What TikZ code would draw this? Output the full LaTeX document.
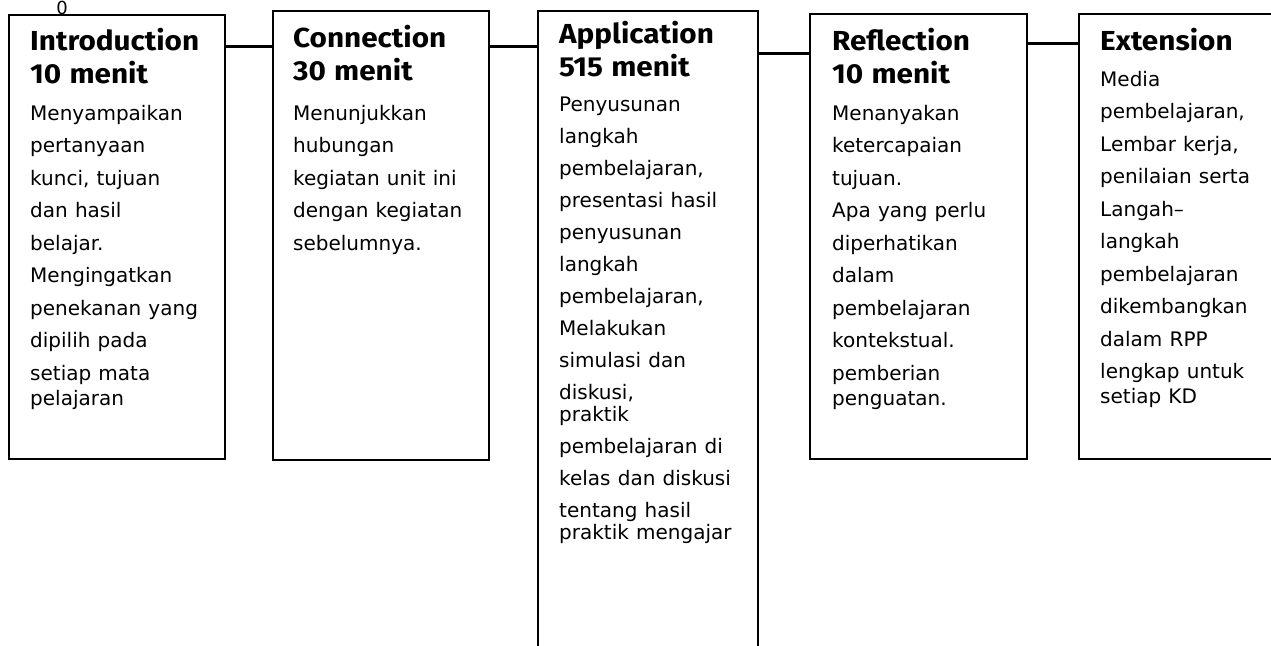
\documentclass[tikz,border=0pt]{standalone}
\usepackage{fontspec}
\setmainfont{DejaVu Sans}
\newfontfamily\headfam{Fira Sans}[FakeStretch=1.08]
\usepackage{tikz}
\newcommand{\stagehead}[1]{{\headfam\bfseries\fontsize{27.5}{33}\selectfont\spaceskip=0.3em #1\par}}
\newcommand{\stagebody}[1]{{\fontsize{20}{25}\selectfont\spaceskip=0.36em #1\par}}

\begin{document}
\begin{tikzpicture}[x=1pt,y=-1pt,
  stagebox/.style={draw,line width=2pt,anchor=north west,inner sep=0pt,outer sep=0pt},
  stagetext/.style={anchor=base west,inner sep=0pt,text width=200pt,align=left},
  link/.style={line width=3pt}]
\useasboundingbox (0,0) rectangle (1271,645);
\clip (0,0) rectangle (1271,645);

\node[stagebox,minimum width=216pt,minimum height=444pt] (intro) at (9,15) {};
\node[stagebox,minimum width=216pt,minimum height=449pt] (conn) at (273,10.5) {};
\node[stagebox,minimum width=220pt,minimum height=700pt] (app) at (538,11) {};
\node[stagebox,minimum width=217pt,minimum height=445pt] (refl) at (810,14) {};
\node[stagebox,minimum width=250pt,minimum height=445pt] (ext) at (1079,14) {};

\node[font=\fontsize{18}{20}\selectfont,anchor=base,inner sep=0pt] (zero) at (62,14) {0};

\node[stagetext] (introtext) at (30,50) {\stagehead{Introduction\\10 menit}\vspace{12pt}
\stagebody{Menyampaikan\\[7.5pt]pertanyaan\\[7.5pt]kunci, tujuan\\[7.5pt]dan hasil\\[7.5pt]belajar.\\[7.5pt]Mengingatkan\\[7.5pt]penekanan yang\\[7.5pt]dipilih pada\\[7.5pt]setiap mata\\pelajaran}};

\node[stagetext] (conntext) at (293,47) {\stagehead{Connection\\30 menit}\vspace{15pt}
\stagebody{Menunjukkan\\[7.5pt]hubungan\\[7.5pt]kegiatan unit ini\\[7.5pt]dengan kegiatan\\[7.5pt]sebelumnya.}};

\node[stagetext] (apptext) at (559,43) {\stagehead{Application\\515 menit}\vspace{10pt}
\stagebody{Penyusunan\\[7pt]langkah\\[7pt]pembelajaran,\\[7pt]presentasi hasil\\[7pt]penyusunan\\[7pt]langkah\\[7pt]pembelajaran,\\[7pt]Melakukan\\[7pt]simulasi dan\\[7pt]diskusi,\\[-3pt]praktik\\[7pt]pembelajaran di\\[7pt]kelas dan diskusi\\[7pt]tentang hasil\\[-3pt]praktik mengajar}};

\node[stagetext] (refltext) at (832,50) {\stagehead{Reflection\\10 menit}\vspace{12pt}
\stagebody{Menanyakan\\[7.5pt]ketercapaian\\[7.5pt]tujuan.\\[7.5pt]Apa yang perlu\\[7.5pt]diperhatikan\\[7.5pt]dalam\\[7.5pt]pembelajaran\\[7.5pt]kontekstual.\\[7.5pt]pemberian\\penguatan.}};

\node[stagetext] (exttext) at (1100,50) {\stagehead{Extension}\vspace{11pt}
\stagebody{Media\\[7.5pt]pembelajaran,\\[7.5pt]Lembar kerja,\\[7.5pt]penilaian serta\\[7.5pt]Langah–\\[7.5pt]langkah\\[7.5pt]pembelajaran\\[7.5pt]dikembangkan\\[7.5pt]dalam RPP\\[7.5pt]lengkap untuk\\setiap KD}};

\coordinate (c1) at (0,46.5);
\coordinate (c2) at (0,46);
\coordinate (c3) at (0,53);
\coordinate (c4) at (0,43);
\draw[link] (intro.east |- c1) -- (conn.west |- c1);
\draw[link] (conn.east |- c2) -- (app.west |- c2);
\draw[link] (app.east |- c3) -- (refl.west |- c3);
\draw[link] (refl.east |- c4) -- (ext.west |- c4);
\end{tikzpicture}
\end{document}
